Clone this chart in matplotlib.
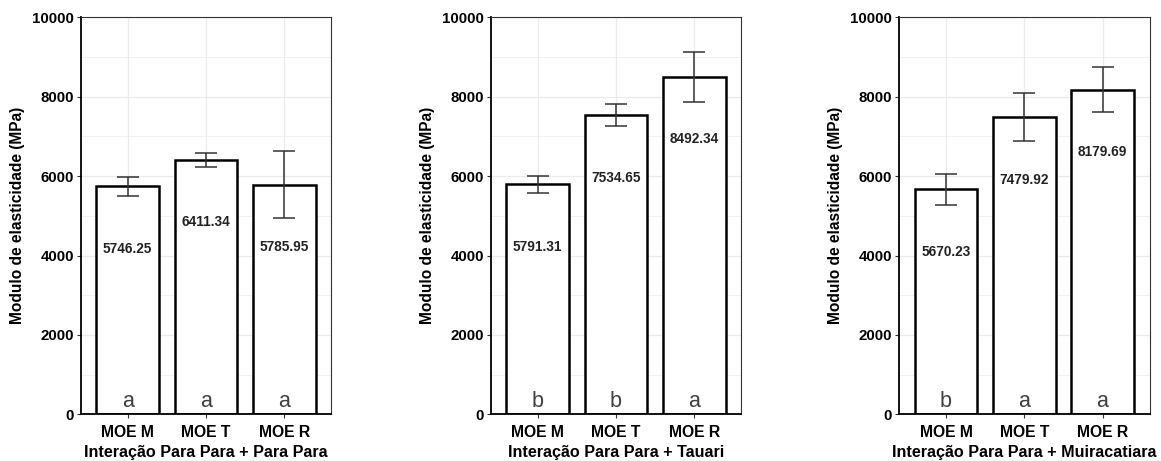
import matplotlib
matplotlib.use("Agg")
import matplotlib.pyplot as plt
import numpy as np

plt.rcParams['font.family'] = ['Liberation Sans', 'DejaVu Sans']

categories = ["MOE M", "MOE T", "MOE R"]
titles = ["Interação Para Para + Para Para",
          "Interação Para Para + Tauari",
          "Interação Para Para + Muiracatiara"]
means = [
    [5746.25, 6411.34, 5785.95],
    [5791.31, 7534.65, 8492.34],
    [5670.23, 7479.92, 8179.69],
]
errors = [
    [243, 177, 850],
    [215, 278, 625],
    [390, 605, 572],
]
letters = [
    ["a", "a", "a"],
    ["b", "b", "a"],
    ["b", "a", "a"],
]
yticks = [0, 2000, 4000, 6000, 8000, 10000]
ylabel = "Modulo de elasticidade (MPa)"

W, H = 1161, 461
fig = plt.figure(figsize=(W / 100, H / 100), dpi=100)
lefts = [80.7, 490.7, 899.0]
aw, ah = 250.5, 397.0
abot = 461 - 414.3

for i in range(3):
    ax = fig.add_axes([lefts[i] / W, abot / H, aw / W, ah / H])
    x = np.arange(1, 4)
    ax.set_xlim(0.4, 3.6)
    ax.set_ylim(0, 10000)
    # grid
    for yv in range(1000, 10001, 1000):
        lw = 0.9 if yv % 2000 == 0 else 0.5
        ax.axhline(yv, color="#ebebeb", lw=lw, zorder=0)
    for xv in x:
        ax.axvline(xv, color="#ebebeb", lw=0.9, zorder=0)
    ax.bar(x, means[i], width=0.8, facecolor="white", edgecolor="black",
           linewidth=1.8, zorder=2)
    ax.errorbar(x, means[i], yerr=errors[i], fmt="none", ecolor="#333333",
                elinewidth=1.1, capsize=8, capthick=1.1, zorder=3)
    for xv, m, l in zip(x, means[i], letters[i]):
        ax.text(xv, m - 1570, f"{m:.2f}", ha="center", va="center",
                fontsize=9.8, fontweight="bold", color="#222222", zorder=4)
        ax.text(xv, 330, l, ha="center", va="center", fontsize=15.5,
                color="#404040", zorder=4)
    ax.set_xticks(x)
    ax.set_xticklabels(categories, fontsize=11.3, fontweight="bold", color="black")
    ax.set_yticks(yticks)
    ax.set_yticklabels([str(v) for v in yticks], fontsize=10.8,
                       fontweight="bold", color="black")
    ax.tick_params(axis="x", length=3, width=0.8, color="#333333", pad=5)
    ax.tick_params(axis="y", length=3, width=0.8, color="#333333", pad=2)
    ax.set_xlabel(titles[i], fontsize=11.6, fontweight="bold", labelpad=3)
    ax.set_ylabel(ylabel, fontsize=11.2, fontweight="bold", labelpad=5)
    for s in ["top", "right"]:
        ax.spines[s].set_color("#333333")
        ax.spines[s].set_linewidth(0.8)
    for s in ["left", "bottom"]:
        ax.spines[s].set_color("black")
        ax.spines[s].set_linewidth(1.3)

fig.savefig("out.png", dpi=100)
